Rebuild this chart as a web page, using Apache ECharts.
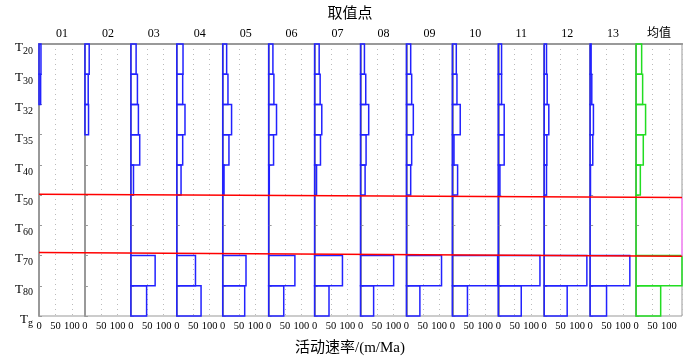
<!DOCTYPE html>
<html>
<head>
<meta charset="utf-8">
<script src="https://cdn.jsdelivr.net/npm/echarts@6/dist/echarts.min.js"></script>
<style>html,body{margin:0;padding:0;background:#fff}#main{width:700px;height:360px}</style>
</head>
<body>
<div id="main"></div>
<script>
// horizon labels (T + subscript), top to bottom
var horizons = ['20', '30', '32', '35', '40', '50', '60', '70', '80', 'g'];
var panelNames = ['01', '02', '03', '04', '05', '06', '07', '08', '09', '10', '11', '12', '13', '均值'];
var xTicks = [0, 50, 100];

// activity rate (m/Ma) for each interval: T20-T30, T30-T32, T32-T35, T35-T40, T40-T50, T50-T60, T60-T70, T70-T80, T80-Tg
var rate01 = [6, 5, null, null, null, null, null, null, null];
var rate02 = [13, 10, 11, null, null, null, null, null, null];
var rate03 = [16, 20, 23, 27, 8, 0, 0, 74, 48];
var rate04 = [19, 18, 25, 18, 13, 0, 0, 57, 74];
var rate05 = [12, 16, 27, 19, 4, 0, 0, 71, 67];
var rate06 = [13, 16, 24, 15, 2, 0, 0, 80, 46];
var rate07 = [14, 17, 22, 18, 6, 0, 0, 85, 44];
var rate08 = [12, 16, 25, 17, 14, 0, 0, 101, 40];
var rate09 = [13, 16, 21, 16, 13, 0, 0, 107, 41];
var rate10 = [12, 14, 24, 5, 16, 0, 0, 138, 46];
var rate11 = [10, 10, 18, 18, 5, 0, 0, 127, 70];
var rate12 = [7, 9, 14, 8, 7, 0, 0, 130, 70];
var rate13 = [3, 5, 10, 8, 1, 0, 0, 121, 50];
var rateMean = [17, 20, 29, 22, 13, 0, 0, 140, 75];

// red boundary lines (horizon position at left / right end of the section)
var redLine1 = [4.97, 5.08];
var redLine2 = [6.90, 7.02];

var rates = [rate01, rate02, rate03, rate04, rate05, rate06, rate07, rate08, rate09, rate10, rate11, rate12, rate13, rateMean];

var chart = echarts.init(document.getElementById('main'));
var serif = "'Liberation Serif', 'Times New Roman', serif";
var axisGray = '#999';

var left0 = 39, right0 = 682, top0 = 44, bottom0 = 316;
var pw = (right0 - left0) / panelNames.length;

// [rate, interval index] pairs, skipping intervals with no value
function boxes(vals) {
  var out = [];
  vals.forEach(function (v, i) {
    if (v !== null) out.push([v, i]);
  });
  return out;
}

function boxRenderer(color) {
  return function (params, api) {
    var p0 = api.coord([0, api.value(1)]);
    var p1 = api.coord([api.value(0), api.value(1) + 1]);
    return {
      type: 'rect',
      shape: { x: p0[0], y: p0[1], width: p1[0] - p0[0], height: p1[1] - p0[1] },
      style: { fill: 'none', stroke: color, lineWidth: 1.5 }
    };
  };
}

var grids = [], xAxes = [], yAxes = [], series = [];
panelNames.forEach(function (name, k) {
  grids.push({
    left: left0 + k * pw, width: pw, top: top0, height: bottom0 - top0,
    show: true, borderColor: axisGray, borderWidth: 1
  });
  xAxes.push({
    type: 'value', gridIndex: k, min: 0, max: 140, interval: 50, position: 'bottom',
    axisLine: { lineStyle: { color: axisGray, width: 2 } },
    axisTick: { show: false },
    axisLabel: {
      color: '#000', fontFamily: serif, fontSize: 10.5, margin: 5,
      customValues: xTicks
    },
    splitLine: { show: true, lineStyle: { color: '#bbb', type: [1, 4], width: 1 } }
  });
  xAxes.push({
    type: 'value', gridIndex: k, min: 0, max: 140, position: 'top',
    name: name, nameLocation: 'middle', nameGap: 4,
    nameTextStyle: { color: '#000', fontFamily: serif + ", 'Noto Sans CJK SC'", fontSize: 12 },
    axisLine: { lineStyle: { color: axisGray, width: 2 } },
    axisTick: { show: false }, axisLabel: { show: false }, splitLine: { show: false }
  });
  yAxes.push({
    type: 'value', gridIndex: k, min: 0, max: 9, interval: 1, inverse: true,
    axisLine: { show: true, lineStyle: { color: axisGray, width: 2 } },
    axisTick: { show: true, inside: true, length: 3, lineStyle: { color: axisGray } },
    splitLine: { show: false },
    axisLabel: {
      show: k === 0, margin: 6, verticalAlign: 'middle',
      formatter: function (v) { return '{t|T}{s|' + horizons[v] + '}'; },
      rich: {
        t: { fontFamily: serif, fontSize: 13, lineHeight: 20, color: '#000', verticalAlign: 'bottom' },
        s: { fontFamily: serif, fontSize: 10, lineHeight: 10, color: '#000', verticalAlign: 'top', padding: [12, 0, 0, 0] }
      }
    }
  });
  series.push({
    type: 'custom', xAxisIndex: 2 * k, yAxisIndex: k, silent: true,
    data: boxes(rates[k]),
    renderItem: boxRenderer(k === panelNames.length - 1 ? '#22dd22' : '#2222ff')
  });
});

// overlay grid for the red section lines
var ov = panelNames.length;
grids.push({ left: left0, width: right0 - left0, top: top0, height: bottom0 - top0 });
xAxes.push({ type: 'value', gridIndex: ov, min: 0, max: 1, show: false });
yAxes.push({ type: 'value', gridIndex: ov, min: 0, max: 9, inverse: true, show: false });
[redLine1, redLine2].forEach(function (ln) {
  series.push({
    type: 'line', xAxisIndex: xAxes.length - 1, yAxisIndex: yAxes.length - 1, z: 5,
    data: [[0, ln[0]], [1, ln[1]]], showSymbol: false, silent: true,
    lineStyle: { color: '#ff0000', width: 1.5 }
  });
});
// pink right edge between the two red lines
series.push({
  type: 'line', xAxisIndex: xAxes.length - 1, yAxisIndex: yAxes.length - 1, z: 4,
  data: [[1, redLine1[1]], [1, redLine2[1]]], showSymbol: false, silent: true,
  lineStyle: { color: '#ff88ff', width: 1.5 }
});

chart.setOption({
  animation: false,
  backgroundColor: '#fff',
  title: [
    { text: '取值点', left: 'center', top: 0, textStyle: { fontFamily: "'Noto Sans CJK SC'", fontSize: 15, fontWeight: 'normal', color: '#000' } },
    { text: '活动速率/(m/Ma)', left: 'center', top: 336, textStyle: { fontFamily: serif + ", 'Noto Sans CJK SC'", fontSize: 15, fontWeight: 'normal', color: '#000' } }
  ],
  grid: grids,
  xAxis: xAxes,
  yAxis: yAxes,
  series: series
});
</script>
</body>
</html>
